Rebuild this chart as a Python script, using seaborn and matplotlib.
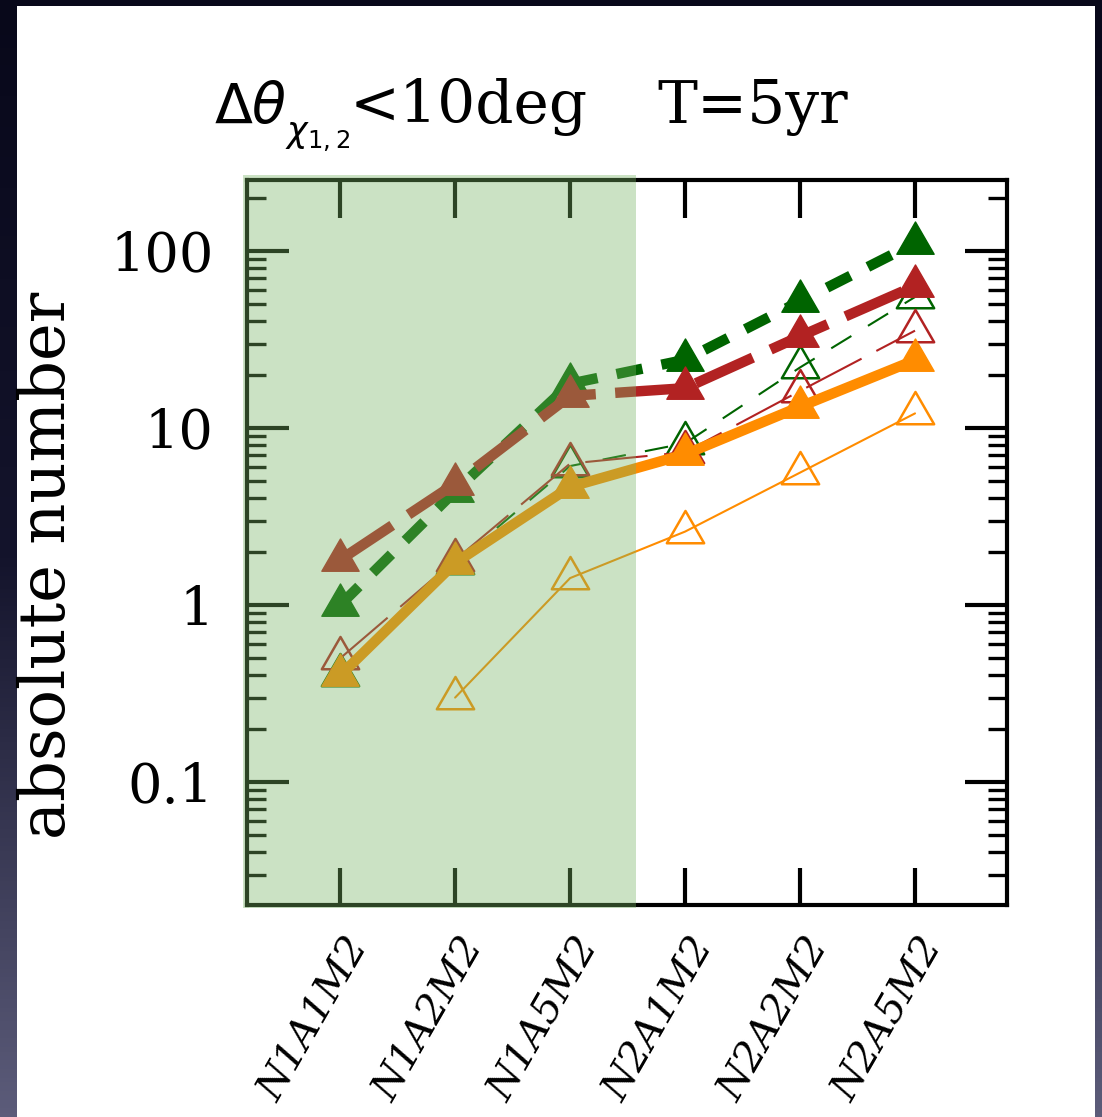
import numpy as np
import pandas as pd
import matplotlib
matplotlib.use("Agg")
import matplotlib.pyplot as plt
import matplotlib.transforms as mtransforms
from matplotlib.path import Path
from matplotlib.patches import Rectangle
from matplotlib.colors import LinearSegmentedColormap
from matplotlib.ticker import LogLocator, NullFormatter
import seaborn as sns

# ---------------- data ----------------
categories = ["N1A1M2", "N1A2M2", "N1A5M2", "N2A1M2", "N2A2M2", "N2A5M2"]
green_filled = [1.0, 4.4, 17.8, 24.3, 52.0, 111.0]
red_filled = [1.8, 4.85, 15.2, 16.8, 33.0, 63.5]
orange_filled = [0.40, 1.73, 4.65, 7.1, 13.2, 24.2]
green_open = [0.40, 1.72, 6.1, 8.2, 22.0, 55.0]
red_open = [0.50, 1.80, 6.3, 7.3, 16.2, 35.5]
orange_open = [np.nan, 0.30, 1.42, 2.6, 5.6, 12.1]
ytick_values = [0.1, 1, 10, 100]
ytick_labels = ["0.1", "1", "10", "100"]
title_math = r"$\Delta\theta$"
title_sub = r"$\chi_{1,2}$"
title_cut = "<10deg"
title_time = "T=5yr"
ylabel = "absolute number"

# ---------------- style ----------------
sns.set_theme(style="white")
plt.rcParams["font.family"] = ["DejaVu Serif", "DejaVu Sans"]
plt.rcParams["mathtext.fontset"] = "dejavusans"
plt.rcParams["lines.scale_dashes"] = False
for key in ["text.color", "axes.labelcolor", "xtick.color", "ytick.color"]:
    plt.rcParams[key] = "black"

W, H = 1102, 1117
fig = plt.figure(figsize=(W / 100, H / 100), dpi=100)

# slide background + white panel
bg = fig.add_axes([0, 0, 1, 1], zorder=-5)
grad = np.linspace(0, 1, 256)[:, None]
cmap = LinearSegmentedColormap.from_list("bg", ["#08081a", "#14142c", "#5c5c7a"])
bg.imshow(grad, aspect="auto", cmap=cmap, extent=[0, 1, 0, 1], origin="upper")
bg.add_patch(Rectangle((17 / W, 0), (1095 - 17) / W, (H - 6) / H,
                       facecolor="white", edgecolor="none", zorder=2))
bg.set_xlim(0, 1)
bg.set_ylim(0, 1)
bg.axis("off")

ax = fig.add_axes([247 / W, 1 - 905 / H, (1007 - 247) / W, (905 - 180) / H])
ax.set_facecolor("white")

# centroid-centred equilateral triangle marker
tri = Path([(0, 1), (-0.866, -0.5), (0.866, -0.5), (0, 1)],
           [Path.MOVETO, Path.LINETO, Path.LINETO, Path.CLOSEPOLY])

x_pos = np.arange(len(categories))

series = [
    # values, colour, filled, linewidth, linestyle, zorder
    (green_open, "#006400", False, 1.5, (0, (17, 14)), 3),
    (red_open, "#b22222", False, 1.5, (0, (45, 12)), 3.1),
    (orange_open, "#ff8c00", False, 1.5, "-", 3.2),
    (green_filled, "#006400", True, 7.5, (0, (19, 14)), 4),
    (red_filled, "#b22222", True, 7.5, (0, (45, 14)), 5),
    (orange_filled, "#ff8c00", True, 7.5, "-", 6),
]

for vals, col, filled, lw, ls, z in series:
    df = pd.DataFrame({"x": x_pos, "y": vals}).dropna()
    sns.lineplot(data=df, x="x", y="y", ax=ax, color=col, linewidth=lw,
                 linestyle=ls, marker=tri, markersize=31,
                 markerfacecolor=(col if filled else "none"),
                 markeredgecolor=col,
                 markeredgewidth=(1.0 if filled else 1.8),
                 errorbar=None, legend=False, zorder=z)

ax.set_yscale("log")
ax.set_ylim(0.0202, 252)
ax.set_xlim(-0.81, 5.8)
ax.set_xlabel("")
ax.set_ylabel("")

ax.set_yticks(ytick_values)
ax.set_yticklabels(ytick_labels, fontsize=39)
ax.yaxis.set_minor_locator(LogLocator(base=10, subs=np.arange(2, 10) * 1.0, numticks=50))
ax.yaxis.set_minor_formatter(NullFormatter())

ax.set_xticks(x_pos)
ax.set_xticklabels(categories, rotation=60, ha="right", va="center",
                   rotation_mode="anchor", fontsize=29, fontstyle="italic")

ax.tick_params(axis="y", which="major", direction="in", length=30, width=3,
               left=True, right=True, pad=24)
ax.tick_params(axis="y", which="minor", direction="in", length=14, width=2.4,
               left=True, right=True)
ax.tick_params(axis="x", which="major", direction="in", length=27, width=3,
               top=True, bottom=True, pad=0)
ax.tick_params(axis="x", which="minor", top=False, bottom=False)

offset = mtransforms.ScaledTranslation(0.20, -0.35, fig.dpi_scale_trans)
for lab in ax.get_xticklabels():
    lab.set_transform(lab.get_transform() + offset)

for sp in ax.spines.values():
    sp.set_linewidth(3)
    sp.set_color("black")

# title pieces and y label
fig.text(214 / W, 1 - 123 / H, title_math, ha="left", va="baseline", fontsize=40)
fig.text(285 / W, 1 - 143 / H, title_sub, ha="left", va="baseline", fontsize=25)
fig.text(350 / W, 1 - 123 / H, title_cut, ha="left", va="baseline", fontsize=43)
fig.text(657 / W, 1 - 123 / H, title_time, ha="left", va="baseline", fontsize=43)
fig.text(47 / W, 1 - 565 / H, ylabel, rotation=90, ha="center", va="center",
         fontsize=46)

# translucent green highlight over the first configurations
fig.add_artist(Rectangle((243 / W, 1 - 908 / H), (636 - 243) / W, (908 - 175) / H,
                         transform=fig.transFigure, facecolor="#78b464",
                         alpha=0.38, edgecolor="none", zorder=50))

fig.savefig("out.png", dpi=100)
